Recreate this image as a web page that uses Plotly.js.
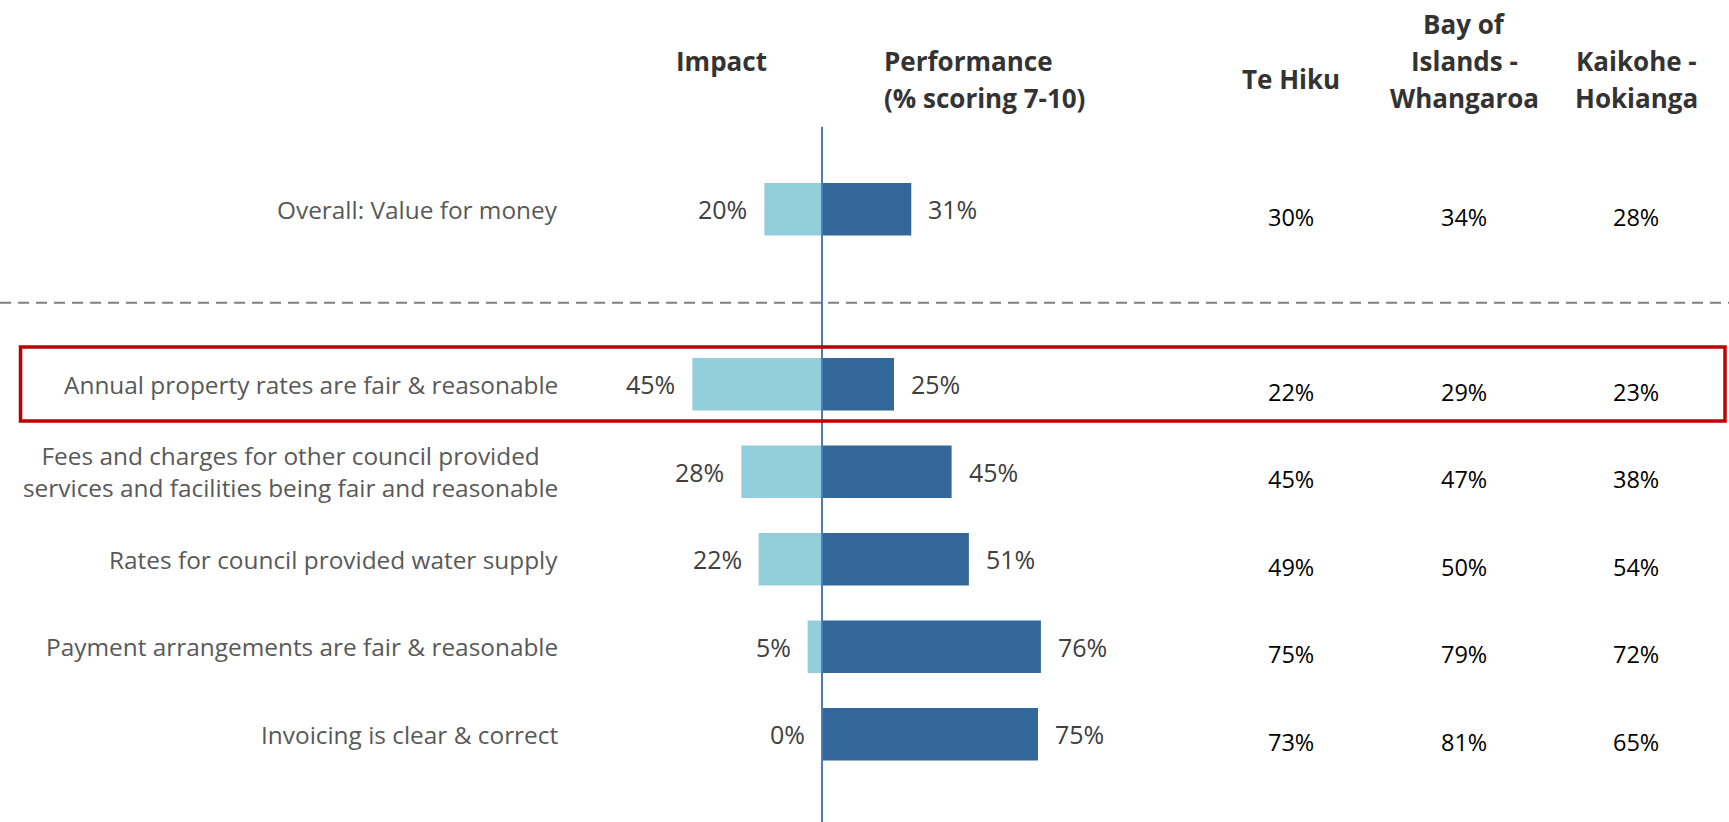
<!DOCTYPE html>
<html><head><meta charset="utf-8">
<script src="https://cdn.plot.ly/plotly-3.0.1.min.js"></script>
<style>html,body{margin:0;padding:0;background:#fff;overflow:hidden}#chart{width:1729px;height:822px}</style>
</head><body><div id="chart"></div>
<script>
// ---- data ----
const categories = [
  "Overall: Value for money",
  "Annual property rates are fair & reasonable",
  "Fees and charges for other council provided<br>services and facilities being fair and reasonable",
  "Rates for council provided water supply",
  "Payment arrangements are fair & reasonable",
  "Invoicing is clear & correct"
];
const impact = [20, 45, 28, 22, 5, 0];
const performance = [31, 25, 45, 51, 76, 75];
const teHiku = [30, 22, 45, 49, 75, 73];
const bayOfIslandsWhangaroa = [34, 29, 47, 50, 79, 81];
const kaikoheHokianga = [28, 23, 38, 54, 72, 65];
const impactHeader = ["Impact"];
const performanceHeader = ["Performance", "(% scoring 7-10)"];
const regionHeaders = [["Te Hiku"], ["Bay of", "Islands -", "Whangaroa"], ["Kaikohe -", "Hokianga"]];
const regionValues = [teHiku, bayOfIslandsWhangaroa, kaikoheHokianga];

// ---- layout helpers ----
const W = 1729, H = 822;
const px = v => v / W, py = v => 1 - v / H;
const spacer = " ";
const categoryOrder = [categories[0], spacer].concat(categories.slice(1));
const fmt = v => v + "%";

const LIGHT = "#92cddc", DARK = "#336699";
const FONT = "Open Sans";

const traces = [
  {type: "bar", orientation: "h", name: "Impact", y: categories, x: impact.map(v => -v),
   marker: {color: LIGHT, line: {width: 0}}, hoverinfo: "skip"},
  {type: "bar", orientation: "h", name: "Performance", y: categories, x: performance,
   marker: {color: DARK, line: {width: 0}}, hoverinfo: "skip"}
];

const ann = [];
const base = {showarrow: false, borderpad: 0};
categories.forEach((c, i) => {
  ann.push(Object.assign({}, base, {text: c, xref: "paper", x: px(559), xanchor: "right", align: "center",
    yref: "y", y: c, yanchor: "middle", font: {family: FONT, size: 24.4, color: "#595959"}}));
  ann.push(Object.assign({}, base, {text: fmt(impact[i]), xref: "x", x: -impact[i], xanchor: "right", xshift: -16,
    yref: "y", y: c, yanchor: "middle", font: {family: FONT, size: 25, color: "#404040"}}));
  ann.push(Object.assign({}, base, {text: fmt(performance[i]), xref: "x", x: performance[i], xanchor: "left", xshift: 16,
    yref: "y", y: c, yanchor: "middle", font: {family: FONT, size: 25, color: "#404040"}}));
});
const colX = [1291, 1464, 1636];
regionValues.forEach((arr, r) => {
  arr.forEach((v, i) => {
    ann.push(Object.assign({}, base, {text: fmt(v), xref: "paper", x: px(colX[r]), xanchor: "center",
      yref: "y", y: categories[i], yanchor: "middle", yshift: -7.5,
      font: {family: FONT, size: 23.5, color: "#000000"}}));
  });
});
const hdrFont = {family: FONT, size: 26, color: "#333333", weight: "bold"};
const lineY = [24, 61.3, 98.3];
ann.push(Object.assign({}, base, {text: impactHeader[0], xref: "paper", yref: "paper", x: px(721), xanchor: "center",
  y: py(61.3), yanchor: "middle", font: hdrFont}));
performanceHeader.forEach((t, k) => ann.push(Object.assign({}, base, {text: t, xref: "paper", yref: "paper",
  x: px(883), xanchor: "left", y: py(lineY[k + 1]), yanchor: "middle", font: hdrFont})));
regionHeaders.forEach((lines, r) => {
  const n = lines.length;
  const ys = n === 1 ? [79.5] : lineY.slice(3 - n);
  lines.forEach((t, k) => ann.push(Object.assign({}, base, {text: t, xref: "paper", yref: "paper",
    x: px(colX[r]), xanchor: "center", y: py(ys[k]), yanchor: "middle", font: hdrFont})));
});

const shapes = [
  {type: "line", xref: "paper", yref: "paper", x0: 0, x1: 1, y0: py(302.7), y1: py(302.7),
   line: {color: "#7f7f7f", width: 2, dash: "11px,7px"}},
  {type: "line", xref: "x", yref: "paper", x0: 0, x1: 0, y0: py(126.7), y1: 0,
   line: {color: "#4a7ebb", width: 2}, layer: "above"},
  {type: "rect", xref: "paper", yref: "paper", x0: px(20.5), x1: px(1725), y0: py(421), y1: py(347),
   line: {color: "#c00000", width: 3.5}, fillcolor: "rgba(0,0,0,0)", layer: "above"}
];

const pxPerPct = 2.88, zeroX = 822;
const rowTop = 209.3, rowStep = 87.5;
const layout = {
  width: W, height: H, margin: {l: 0, r: 0, t: 0, b: 0}, paper_bgcolor: "#fff", plot_bgcolor: "#fff",
  showlegend: false, barmode: "relative", bargap: 0.4,
  font: {family: FONT},
  xaxis: {range: [-zeroX / pxPerPct, (W - zeroX) / pxPerPct], visible: false, fixedrange: true},
  yaxis: {type: "category", categoryorder: "array", categoryarray: categoryOrder,
    range: [(H - rowTop) / rowStep, -rowTop / rowStep], visible: false, fixedrange: true},
  annotations: ann, shapes: shapes
};
Plotly.newPlot("chart", traces, layout, {staticPlot: true, displayModeBar: false});
</script></body></html>
